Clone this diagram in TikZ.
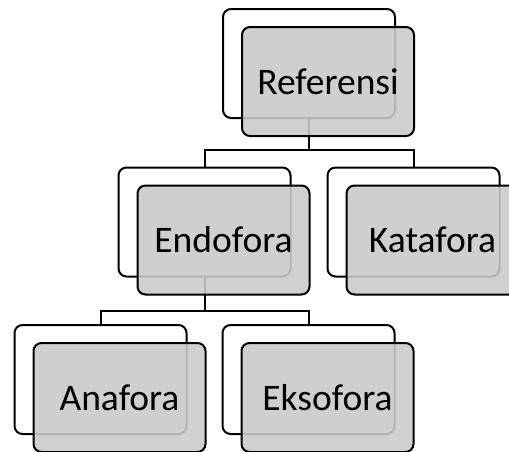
\documentclass[tikz,border=0pt]{standalone}
\usepackage{fontspec}
\setmainfont{Carlito}
\usepackage{tikz}
\usetikzlibrary{positioning}
\definecolor{boxGray}{RGB}{202,202,202}

\tikzset{
  backbox/.style={draw=black,fill=white,line width=2pt,rounded corners=8pt,
    minimum width=172pt,minimum height=109pt,inner sep=0pt},
  frontbox/.style={draw=black,fill=boxGray,fill opacity=0.89,text opacity=1,
    line width=2pt,rounded corners=8pt,minimum width=172pt,
    minimum height=109pt,inner sep=0pt,font=\fontsize{37.5}{42}\selectfont},
  link/.style={draw=black,line width=2pt}
}

\begin{document}
\begin{tikzpicture}[x=1pt,y=-1pt]
        \useasboundingbox (0,0) rectangle (509,451);
        % Kotak belakang
        \foreach \name/\x/\y in {ref/309/63.5, endo/204.5/222, kata/413.5/222,
                                 ana/100.5/379.5, ekso/308.5/379.5}{
          \node[backbox] (\name B) at (\x,\y) {};
        }
        % Garis penghubung
        \coordinate (barA) at (0,150);
        \coordinate (barB) at (0,311);
        \draw[link] (refB.south) -- (refB.south |- barA) -| (endoB.north);
        \draw[link] (refB.south |- barA) -| (kataB.north);
        \draw[link] (endoB.south) -- (endoB.south |- barB) -| (anaB.north);
        \draw[link] (endoB.south |- barB) -| (eksoB.north);
        % Kotak depan
        \foreach \name/\txt in {ref/Referensi, endo/Endofora, kata/Katafora,
                                ana/Anafora, ekso/Eksofora}{
          \node[frontbox,below right=18pt and 19pt of \name B.center,anchor=center]
            (\name F) {\txt};
        }
      \end{tikzpicture}
\end{document}
